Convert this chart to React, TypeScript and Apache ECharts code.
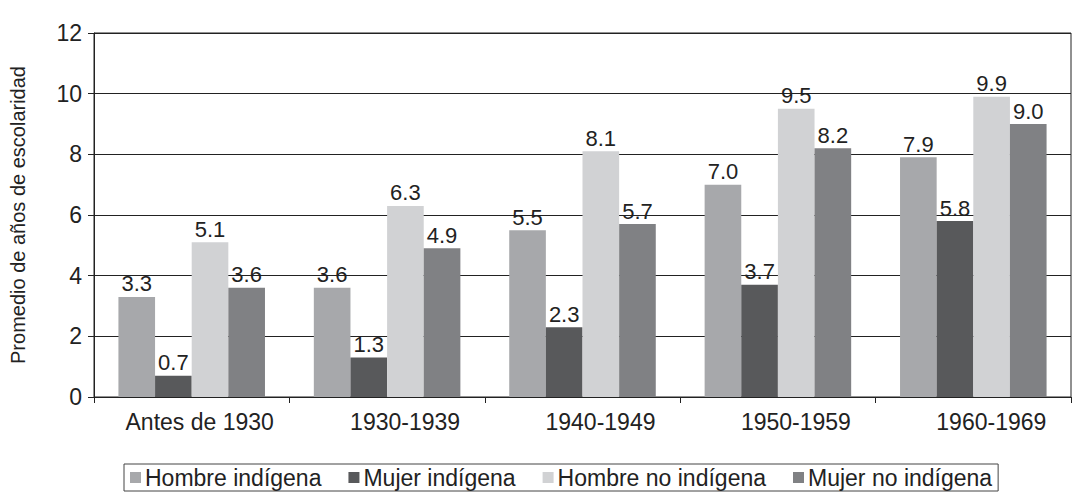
import React, { useEffect, useRef } from "react";
import * as echarts from "echarts";

const categories = ["Antes de 1930", "1930-1939", "1940-1949", "1950-1959", "1960-1969"];
const hombreIndigena = [3.3, 3.6, 5.5, 7.0, 7.9];
const mujerIndigena = [0.7, 1.3, 2.3, 3.7, 5.8];
const hombreNoIndigena = [5.1, 6.3, 8.1, 9.5, 9.9];
const mujerNoIndigena = [3.6, 4.9, 5.7, 8.2, 9.0];
const seriesNames = ["Hombre indígena", "Mujer indígena", "Hombre no indígena", "Mujer no indígena"];
const colors = ["#a7a8ab", "#58595b", "#d1d2d4", "#808184"];
const yTicks = [0, 2, 4, 6, 8, 10, 12];

export default function App() {
  const ref = useRef<HTMLDivElement>(null);
  useEffect(() => {
    if (!ref.current) return;
    const chart = echarts.init(ref.current, undefined, { renderer: "svg" });
    const font = "'Liberation Sans', Arial, sans-serif";
    const data = [hombreIndigena, mujerIndigena, hombreNoIndigena, mujerNoIndigena];
    chart.setOption({
      animation: false,
      textStyle: { fontFamily: font },
      grid: { left: 87, right: 3, top: 33, bottom: 105, containLabel: false, show: true, borderColor: "#222", borderWidth: 1 },
      legend: {
        bottom: 11,
        left: 124,
        itemWidth: 11,
        itemHeight: 11,
        itemGap: 27,
        borderColor: "#444",
        borderWidth: 1,
        padding: [2, 6, 2, 6],
        borderRadius: 0,
        icon: "rect",
        textStyle: { fontSize: 23, color: "#222", fontFamily: font, padding: [0, 0, 0, -1] },
        data: seriesNames,
      },
      xAxis: {
        type: "category",
        data: categories,
        axisLine: { lineStyle: { color: "#222" } },
        axisTick: { show: true, interval: 0, length: 6, lineStyle: { color: "#222" } },
        axisLabel: {
          interval: 0,
          hideOverlap: false,
          fontSize: 23,
          color: "#222",
          margin: 13,
          fontFamily: font,
          formatter: (v: string, i: number) => (i === 0 ? `{first|${v}}` : `{other|${v}}`),
          rich: {
            first: { fontSize: 23, color: "#222", fontFamily: font, padding: [0, 0, 0, 16] },
            other: { fontSize: 23, color: "#222", fontFamily: font, padding: [0, 0, 0, 36] },
          },
        },
      },
      yAxis: {
        type: "value",
        min: yTicks[0],
        max: yTicks[yTicks.length - 1],
        interval: 2,
        name: "Promedio de años de escolaridad",
        nameLocation: "middle",
        nameGap: 66,
        nameTextStyle: { fontSize: 20, color: "#222", fontFamily: font },
        axisLine: { show: true, lineStyle: { color: "#222" } },
        axisTick: { show: true, length: 6, lineStyle: { color: "#222" } },
        axisLabel: { fontSize: 23, color: "#222", margin: 12, fontFamily: font },
        splitLine: { show: true, lineStyle: { color: "#222", width: 1 } },
      },
      series: seriesNames.map((name, i) => ({
        name,
        type: "bar",
        data: data[i],
        barGap: "0%",
        barCategoryGap: "25%",
        itemStyle: { color: colors[i] },
        label: {
          show: true,
          position: "top",
          distance: 2,
          fontSize: 22,
          color: "#222",
          fontFamily: font,
          formatter: (p: any) => Number(p.value).toFixed(1),
        },
      })),
    });
    return () => chart.dispose();
  }, []);
  return <div ref={ref} style={{ position: "fixed", left: 0, top: 0, width: 1074, height: 502, background: "#fff" }} />;
}
